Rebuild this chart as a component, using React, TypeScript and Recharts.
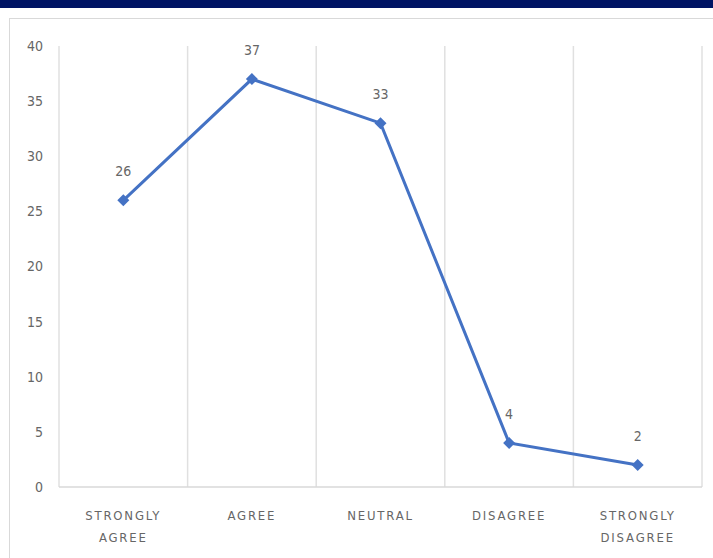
import React from "react";
import { LineChart, Line, XAxis, YAxis, ReferenceLine, LabelList } from "recharts";

const categories = ["STRONGLY AGREE", "AGREE", "NEUTRAL", "DISAGREE", "STRONGLY DISAGREE"];
const values = [26, 37, 33, 4, 2];
const yTicks = [0, 5, 10, 15, 20, 25, 30, 35, 40];
const bandEdges = [0, 1, 2, 3, 4, 5];

const data = categories.map((c, i) => ({ name: c, pos: i + 0.5, value: values[i] }));
const xTicks = data.map((d) => d.pos);

const FONT = "'Liberation Sans Narrow', 'DejaVu Sans Condensed', 'Open Sans', sans-serif";

const XTick = (props: any) => {
  const { x, y, payload } = props;
  const idx = Math.round(payload.value - 0.5);
  const label = categories[idx] || "";
  const words = label.split(" ");
  return (
    <text x={x} y={y} textAnchor="middle" fill="#666" fontSize={13} fontFamily={FONT} letterSpacing={1.8}>
      {words.map((w, i) => (
        <tspan key={i} x={x} dy={i === 0 ? 25 : 22}>
          {w}
        </tspan>
      ))}
    </text>
  );
};

const Diamond = (props: any) => {
  const { cx, cy } = props;
  if (cx == null || cy == null) return null;
  const r = 6;
  return <path d={`M${cx},${cy - r}L${cx + r},${cy}L${cx},${cy + r}L${cx - r},${cy}Z`} fill="#4472C4" />;
};

export default function App() {
  return (
    <div style={{ position: "absolute", left: 0, top: 0, width: 713, height: 558, background: "#fff", overflow: "hidden" }}>
      <div style={{ position: "absolute", left: 0, top: 0, width: 713, height: 8, background: "#001464" }} />
      <div style={{ position: "absolute", left: 9, top: 18, width: 720, height: 560, border: "1.5px solid #d9d9d9", boxSizing: "border-box" }} />
      <div style={{ position: "absolute", left: 0, top: 0 }}>
        <LineChart width={713} height={558} data={data} margin={{ top: 46, right: 11, bottom: 11, left: 21 }}>
          <XAxis
            dataKey="pos"
            type="number"
            domain={[0, 5]}
            ticks={xTicks}
            tick={<XTick />}
            tickLine={false}
            axisLine={{ stroke: "#d9d9d9", strokeWidth: 1.5 }}
            height={60}
            interval={0}
          />
          <YAxis
            domain={[0, 40]}
            ticks={yTicks}
            axisLine={false}
            tickLine={false}
            width={38}
            tick={{ fill: "#666", fontSize: 14, fontFamily: FONT }}
            tickMargin={10}
          />
          {bandEdges.map((e) => (
            <ReferenceLine key={e} x={e} stroke="#e0e0e0" strokeWidth={1.5} />
          ))}
          <Line
            dataKey="value"
            stroke="#4472C4"
            strokeWidth={3}
            dot={<Diamond />}
            activeDot={false}
            isAnimationActive={false}
          >
            <LabelList dataKey="value" position="top" offset={24} fill="#666" fontSize={14} fontFamily={FONT} />
          </Line>
        </LineChart>
      </div>
    </div>
  );
}
